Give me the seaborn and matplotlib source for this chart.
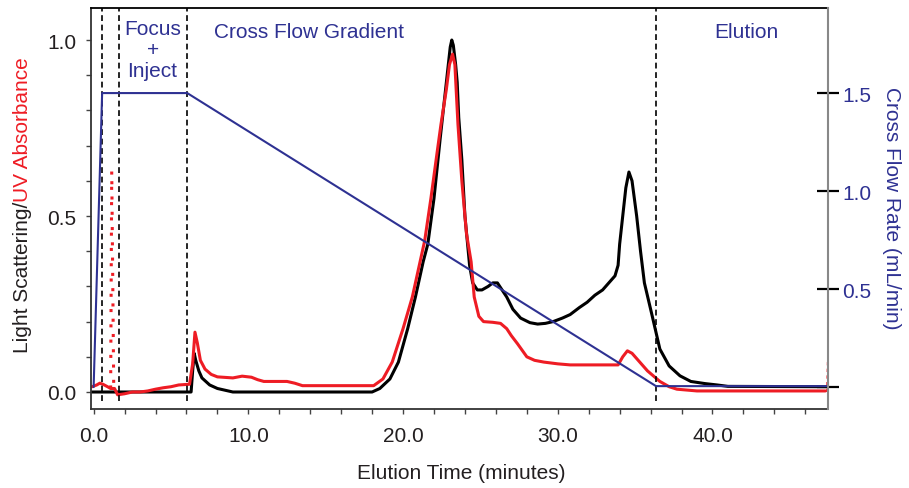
import numpy as np
import pandas as pd
import matplotlib
matplotlib.use('Agg')
import matplotlib.pyplot as plt
import seaborn as sns
from matplotlib.ticker import MultipleLocator, FixedLocator, FixedFormatter

# ---------------- data ----------------
# Light scattering (black), elution time in minutes
ls_time = [-0.1, 6.3, 6.4, 6.5, 6.6, 6.8, 7.0, 7.5, 8.0, 8.5, 9.0, 18.0, 18.5, 19.15,
           19.7, 20.3, 20.8, 21.3, 21.6, 22.0, 22.4, 22.6, 22.8, 22.95, 23.05, 23.15,
           23.25, 23.4, 23.5, 23.6, 23.8, 24.0, 24.3, 24.5, 24.8, 25.1, 25.5, 25.8,
           26.1, 26.4, 26.7, 27.1, 27.6, 28.2, 28.7, 29.2, 29.7, 30.3, 30.8, 31.4,
           31.9, 32.4, 32.9, 33.3, 33.7, 33.9, 34.0, 34.2, 34.4, 34.6, 34.8, 35.1,
           35.35, 35.6, 36.1, 36.6, 37.2, 37.9, 38.6, 39.5, 40.3, 41.0, 47.5]
ls_val = [0.0, 0.0, 0.06, 0.11, 0.09, 0.06, 0.04, 0.02, 0.01, 0.005, 0.0, 0.0, 0.01, 0.037,
          0.085, 0.18, 0.27, 0.37, 0.42, 0.55, 0.72, 0.8, 0.88, 0.94, 0.98, 1.0,
          0.985, 0.93, 0.88, 0.78, 0.66, 0.5, 0.36, 0.31, 0.29, 0.29, 0.30, 0.31,
          0.31, 0.29, 0.27, 0.235, 0.21, 0.197, 0.193, 0.195, 0.2, 0.21, 0.22, 0.24,
          0.255, 0.275, 0.29, 0.31, 0.33, 0.36, 0.42, 0.5, 0.58, 0.625, 0.6, 0.5,
          0.4, 0.31, 0.217, 0.122, 0.074, 0.046, 0.03, 0.024, 0.02, 0.016, 0.015]

# UV absorbance (red)
uv_time = [-0.1, 0.2, 0.4, 0.6, 0.9, 1.1, 1.35, 1.55, 2.0, 2.5, 3.0, 3.5, 4.0, 4.5, 5.0,
           5.5, 6.2, 6.4, 6.55, 6.7, 6.9, 7.2, 7.6, 8.0, 9.0, 9.6, 10.2, 10.6, 11.0,
           12.5, 13.0, 13.5, 18.1, 18.7, 19.3, 20.0, 20.6, 21.1, 21.4, 21.8, 22.2,
           22.45, 22.8, 23.0, 23.2, 23.35, 23.55, 23.8, 24.1, 24.4, 24.6, 24.9, 25.2,
           25.8, 26.3, 26.7, 27.0, 27.4, 28.0, 28.5, 29.1, 30.0, 30.8, 33.9, 34.2,
           34.5, 34.8, 35.3, 35.8, 36.6, 37.2, 37.7, 39.0, 47.3]
uv_val = [0.015, 0.02, 0.025, 0.022, 0.015, 0.01, 0.01, -0.008, -0.005, 0.0, 0.0, 0.003,
          0.008, 0.012, 0.015, 0.02, 0.022, 0.08, 0.17, 0.14, 0.09, 0.065, 0.05, 0.043,
          0.04, 0.045, 0.042, 0.035, 0.03, 0.03, 0.025, 0.018, 0.018, 0.037, 0.085,
          0.18, 0.27, 0.37, 0.43, 0.55, 0.68, 0.76, 0.86, 0.93, 0.96, 0.93, 0.76, 0.6,
          0.45, 0.37, 0.27, 0.215, 0.2, 0.198, 0.195, 0.18, 0.16, 0.137, 0.1, 0.09,
          0.085, 0.08, 0.077, 0.077, 0.1, 0.117, 0.11, 0.085, 0.06, 0.03, 0.015, 0.008,
          0.003, 0.003]

# sparse (dotted) UV spikes
uv_spike_time = [1.1, 1.17, 1.3]
uv_spike_val = [0.01, 0.63, 0.01]
uv_end_time = [47.4, 47.45]
uv_end_val = [0.0, 0.09]

# Cross flow rate (blue, right axis), mL/min
flow_time = [0.0, 0.55, 6.05, 36.35, 47.5]
flow_val = [0.0, 1.5, 1.5, 0.005, 0.005]

# phase boundaries (dashed lines)
phase_bounds = [0.55, 1.65, 6.05, 36.35]

# tick labels
x_ticks = [0, 10, 20, 30, 40]
x_ticklabels = ['0.0', '10.0', '20.0', '30.0', '40.0']
yl_ticks = [0.0, 0.5, 1.0]
yl_ticklabels = ['0.0', '0.5', '1.0']
yr_ticks = [0.0, 0.5, 1.0, 1.5]
yr_ticklabels = ['', '0.5', '1.0', '1.5']

# ---------------- style ----------------
sns.set_style('white')
plt.rcParams['font.family'] = ['Liberation Sans', 'DejaVu Sans']

BLUE = '#2e3192'
RED = '#ee1c24'
TXT = '#231f20'
FS = 15

W, H = 909, 489
fig = plt.figure(figsize=(W / 100, H / 100), dpi=100)
L, R, B, T = 91, 828.5, 410, 9
ax = fig.add_axes([L / W, 1 - B / H, (R - L) / W, (B - T) / H])
ax2 = ax.twinx()

sns.lineplot(x=ls_time, y=ls_val, ax=ax, color='black', lw=2.2, estimator=None, sort=False)
sns.lineplot(x=uv_time, y=uv_val, ax=ax, color=RED, lw=2.2, estimator=None, sort=False)
sns.lineplot(x=uv_spike_time, y=uv_spike_val, ax=ax, color=RED, lw=2.2,
             linestyle=(0, (1, 4)), estimator=None, sort=False)
sns.lineplot(x=uv_end_time, y=uv_end_val, ax=ax, color=RED, lw=1.2,
             linestyle=(0, (2, 2)), estimator=None, sort=False)
sns.lineplot(x=flow_time, y=flow_val, ax=ax2, color=BLUE, lw=1.5, estimator=None, sort=False)

for xb in phase_bounds:
    ax.axvline(xb, ymin=0.02, ymax=1, color='black', lw=1.2, linestyle=(0, (3.5, 2.2)))

ax.set_xlim(-0.17, 47.5)
ax.set_ylim(-0.0483, 1.091)
ax2.set_ylim(-0.1117, 1.934)

ax.xaxis.set_major_locator(FixedLocator(x_ticks))
ax.xaxis.set_major_formatter(FixedFormatter(x_ticklabels))
ax.xaxis.set_minor_locator(MultipleLocator(2))
ax.yaxis.set_major_locator(FixedLocator(yl_ticks))
ax.yaxis.set_major_formatter(FixedFormatter(yl_ticklabels))
ax.yaxis.set_minor_locator(MultipleLocator(0.1))
ax.tick_params(axis='both', which='both', direction='out', length=3.5, width=1,
               color='#444444', labelcolor=TXT, labelsize=FS)
ax.tick_params(axis='y', which='major', pad=7, left=True)
ax.tick_params(axis='y', which='minor', left=True)
ax.tick_params(axis='x', which='major', pad=9, bottom=True)
ax.tick_params(axis='x', which='minor', bottom=True)
ax.set_xlabel('')
ax.set_ylabel('')

ax2.yaxis.set_major_locator(FixedLocator(yr_ticks))
ax2.yaxis.set_major_formatter(FixedFormatter(yr_ticklabels))
ax2.tick_params(axis='y', which='major', direction='inout', length=16, width=1.6,
                color='black', labelcolor=BLUE, labelsize=FS, pad=2, right=True)
ax2.set_ylabel('')

for a in (ax, ax2):
    for s in a.spines.values():
        s.set_visible(False)
ax.spines['left'].set_visible(True)
ax.spines['bottom'].set_visible(True)
ax.spines['top'].set_visible(True)
ax.spines['left'].set_color('#333333')
ax.spines['bottom'].set_color('#333333')
ax.spines['top'].set_color('black')
for k in ('left', 'bottom', 'top'):
    ax.spines[k].set_linewidth(1.3)
ax2.spines['right'].set_visible(True)
ax2.spines['right'].set_color('#888888')
ax2.spines['right'].set_linewidth(1.5)

# phase annotations (multi-line text: baseline refers to last line)
ax.text(3.81, 0.8977, 'Focus\n+\nInject', color=BLUE, fontsize=FS, ha='center',
        va='baseline', linespacing=1.15)
ax.text(13.9, 1.0085, 'Cross Flow Gradient', color=BLUE, fontsize=FS, ha='center', va='baseline')
ax.text(42.2, 1.0085, 'Elution', color=BLUE, fontsize=FS, ha='center', va='baseline')

# axis labels
fig.text(461.5 / W, 1 - 479 / H, 'Elution Time (minutes)', color=TXT, fontsize=FS,
         ha='center', va='baseline')
renderer = fig.canvas.get_renderer()
x_lab = 22.5 / W
y0 = 1 - 353 / H
t1 = fig.text(x_lab, y0, 'Light Scattering/', color=TXT, fontsize=FS, rotation=90,
              ha='center', va='bottom')
bb = t1.get_window_extent(renderer)
fig.text(x_lab, y0 + bb.height / H, 'UV Absorbance', color=RED, fontsize=FS, rotation=90,
         ha='center', va='bottom')
fig.text(892 / W, 1 - 208 / H, 'Cross Flow Rate (mL/min)', color=BLUE, fontsize=FS,
         rotation=270, ha='center', va='center')

fig.savefig('out.png', dpi=100)
